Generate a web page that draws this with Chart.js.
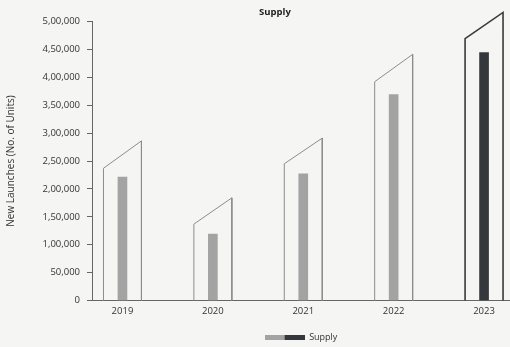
<!DOCTYPE html>
<html>
<head>
<meta charset="utf-8">
<script src="https://cdn.jsdelivr.net/npm/chart.js@4"></script>
<style>
  html, body { margin: 0; padding: 0; background: #f5f5f4; overflow: hidden; }
  #wrap { width: 510px; height: 347px; }
</style>
</head>
<body>
<div id="wrap"><canvas id="supply-chart"></canvas></div>
<script>
// values
const years = ['2019', '2020', '2021', '2022', '2023'];
const supply = [221000, 119000, 227000, 369000, 444000];
// the slanted outline boxes around each bar (left top / right top)
const outlineLeft = [237000, 137000, 245000, 392000, 469000];
const outlineRight = [286000, 184000, 291000, 441000, 516000];
const yTicks = [0, 50000, 100000, 150000, 200000, 250000, 300000, 350000, 400000, 450000, 500000];

const grey = '#a3a3a3';
const dark = '#34373c';
const lastIdx = years.length - 1;
const FONT = 'Open Sans';

function fmtIN(n) {
    const s = String(n);
    if (s.length <= 3) return s;
    const rest = s.slice(0, -3).replace(/\B(?=(\d{2})+(?!\d))/g, ',');
    return rest + ',' + s.slice(-3);
}

// two tone swatch for the legend
const swatch = document.createElement('canvas');
swatch.width = 40; swatch.height = 5;
const sctx = swatch.getContext('2d');
sctx.fillStyle = grey; sctx.fillRect(0, 0, 20, 5);
sctx.fillStyle = dark; sctx.fillRect(20, 0, 20, 5);

const half = 0.21;
const outlineSets = years.map((y, i) => ({
    type: 'line',
    label: 'outline ' + y,
    data: [
        { x: i - half, y: 0 },
        { x: i - half, y: outlineLeft[i] },
        { x: i + half, y: outlineRight[i] },
        { x: i + half, y: 0 }
    ],
    borderColor: i === lastIdx ? '#3a3a3a' : '#8c8c8c',
    borderWidth: i === lastIdx ? 1.6 : 1,
    pointRadius: 0,
    tension: 0,
    fill: false,
    clip: false
}));

const shiftTitle = {
    id: 'shiftTitle',
    afterLayout(chart) {
        if (chart.titleBlock) chart.titleBlock.left += 40;
    }
};

new Chart(document.getElementById('supply-chart'), {
    type: 'bar',
    data: {
        datasets: [{
            label: 'Supply',
            data: supply.map((v, i) => ({ x: i, y: v })),
            backgroundColor: supply.map((v, i) => i === lastIdx ? dark : grey),
            barThickness: 9
        }, ...outlineSets]
    },
    options: {
        responsive: true,
        maintainAspectRatio: false,
        animation: false,
        layout: { padding: { top: 0, right: 0, bottom: -5, left: 0 } },
        plugins: {
            title: {
                display: true,
                text: 'Supply',
                color: '#222',
                font: { family: FONT, size: 9.5, weight: 'bold' },
                padding: { top: 7, bottom: 3 }
            },
            legend: {
                position: 'bottom',
                fullSize: false,
                labels: {
                    usePointStyle: true,
                    pointStyleWidth: 40,
                    boxHeight: 5,
                    padding: 11,
                    color: '#333',
                    font: { family: FONT, size: 9 },
                    generateLabels: () => [{
                        text: 'Supply',
                        pointStyle: swatch,
                        fillStyle: dark,
                        strokeStyle: 'transparent',
                        lineWidth: 0,
                        hidden: false,
                        datasetIndex: 0,
                        fontColor: '#333'
                    }]
                }
            },
            tooltip: { enabled: false }
        },
        scales: {
            x: {
                type: 'linear',
                offset: false,
                min: -0.337,
                max: 4.287,
                grid: { display: false, drawTicks: false, offset: false },
                border: { display: true, color: '#666', width: 1 },
                afterBuildTicks: scale => { scale.ticks = years.map((y, i) => ({ value: i })); },
                ticks: {
                    callback: v => years[v] ?? '',
                    color: '#333',
                    padding: 5,
                    font: { family: FONT, size: 9.5 }
                }
            },
            y: {
                min: 0,
                max: 500000,
                afterBuildTicks: scale => { scale.ticks = yTicks.map(v => ({ value: v })); },
                afterFit: scale => { scale.width = 92; },
                grid: { drawOnChartArea: false, drawTicks: true, tickLength: 5, color: '#666' },
                border: { display: true, color: '#666', width: 1 },
                ticks: {
                    callback: v => fmtIN(v),
                    color: '#333',
                    padding: 7,
                    font: { family: FONT, size: 9.5 }
                },
                title: {
                    display: true,
                    text: 'New Launches (No. of Units)',
                    color: '#333',
                    font: { family: FONT, size: 10 },
                    padding: { top: 5, bottom: 0 }
                }
            }
        }
    },
    plugins: [shiftTitle]
});
</script>
</body>
</html>
